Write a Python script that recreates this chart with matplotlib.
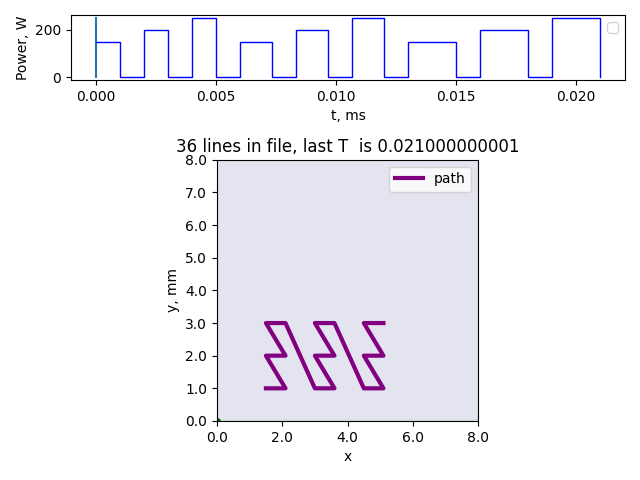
import numpy as np
import matplotlib
matplotlib.use("Agg")
import matplotlib.pyplot as plt
from matplotlib.colors import ListedColormap

# power schedule (step function, value holds until next time)
t_ms = [0.0, 0.001, 0.002, 0.003, 0.004, 0.005, 0.006, 0.00733, 0.00833, 0.00967,
        0.01067, 0.012, 0.013, 0.015, 0.016, 0.018, 0.019, 0.021]
power = [150, 0, 200, 0, 250, 0, 150, 0, 200, 0, 250, 0, 150, 0, 200, 0, 250, 0]

# scan path vertices
path_x = [1.5, 2.1, 1.5, 2.1, 1.5, 2.1, 3.0, 3.6, 3.0, 3.6, 3.0, 3.6, 4.5, 5.1, 4.5, 5.1, 4.5, 5.1]
path_y = [1.0, 1.0, 2.0, 2.0, 3.0, 3.0, 1.0, 1.0, 2.0, 2.0, 3.0, 3.0, 1.0, 1.0, 2.0, 2.0, 3.0, 3.0]

n_lines = 36
last_T = "0.021000000001"

fig = plt.figure(figsize=(6.4, 4.8), dpi=100)
ax1 = fig.add_axes([0.111, 0.833, 0.866, 0.136])
ax1.step(t_ms, power, where="post", color="blue", lw=1)
ax1.plot([0, 0], [0, 250], color="C0", lw=1.5, zorder=1)
ax1.set_xlabel("t, ms")
ax1.set_ylabel("Power, W")
ax1.legend(loc="upper right")

ax2 = fig.add_axes([0.339, 0.123, 0.408, 0.544])
field = np.zeros((150, 150))
field[:1, :] = 1
field[-1:, :] = 1
field[:, :1] = 1
field[:, -1:] = 1
ax2.imshow(field, extent=[0, 8, 0, 8], origin="lower",
           cmap=ListedColormap(["#e4e4f0", "#d6e0e2"]), interpolation="nearest", aspect="equal")
ax2.plot(path_x, path_y, color="purple", lw=3, label="path")
ax2.plot([0], [0], "o", color="green", ms=4)
ax2.set_xlim(0, 8)
ax2.set_ylim(0, 8)
ax2.set_xticks(np.arange(0, 8.1, 2))
ax2.set_yticks(np.arange(0, 8.1, 1))
ax2.xaxis.set_major_formatter(matplotlib.ticker.FormatStrFormatter("%.1f"))
ax2.yaxis.set_major_formatter(matplotlib.ticker.FormatStrFormatter("%.1f"))
ax2.set_xlabel("x")
ax2.set_ylabel("y, mm")
ax2.set_title(f"{n_lines} lines in file, last T  is {last_T}")
ax2.legend(loc="upper right")

fig.savefig("out.png", dpi=100)
